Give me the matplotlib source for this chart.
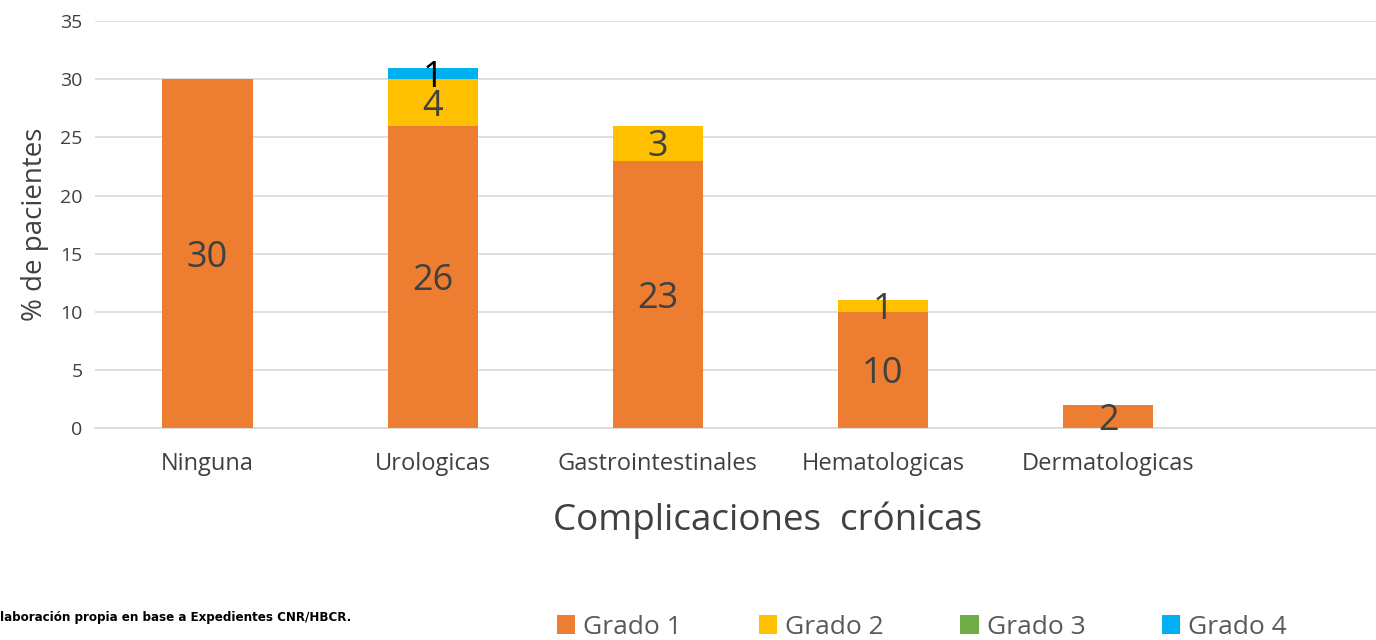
import numpy as np
import matplotlib
matplotlib.use("Agg")
import matplotlib.pyplot as plt
from matplotlib.patches import Patch

plt.rcParams['font.family'] = ['Open Sans', 'DejaVu Sans']

# Data
categories = ["Ninguna", "Urologicas", "Gastrointestinales", "Hematologicas", "Dermatologicas", ""]
grado1 = [30, 26, 23, 10, 2, 0]
grado2 = [0, 4, 3, 1, 0, 0]
grado3 = [0, 0, 0, 0, 0, 0]
grado4 = [0, 1, 0, 0, 0, 0]
series_names = ["Grado 1", "Grado 2", "Grado 3", "Grado 4"]
colors = ["#ED7D31", "#FFC000", "#70AD47", "#00B0F0"]
label_colors = ["#404040", "#404040", "#404040", "#000000"]

fig = plt.figure(figsize=(13.76, 6.4), dpi=100)
ax = fig.add_axes([0.069, 0.331, 0.931, 0.636])

x = np.arange(len(categories))
bottom = np.zeros(len(categories))
for vals, name, col, lcol in zip([grado1, grado2, grado3, grado4], series_names, colors, label_colors):
    vals = np.array(vals, dtype=float)
    bars = ax.bar(x, vals, 0.4, bottom=bottom, color=col, label=name, zorder=3)
    labels = [f"{int(v)}" if v > 0 else "" for v in vals]
    ax.bar_label(bars, labels=labels, label_type="center", fontsize=26, color=lcol,
                 padding=-3, zorder=4)
    bottom += vals

ax.set_ylim(0, 35)
ax.set_yticks(range(0, 36, 5))
ax.set_xlim(-0.5, 5.19)
ax.set_xticks(x[:5])
ax.set_xticklabels(categories[:5], fontsize=17, color="#404040")
ax.tick_params(axis="y", labelsize=14, labelcolor="#404040", length=0, pad=9)
ax.tick_params(axis="x", length=0, pad=17)
ax.grid(axis="y", color="#D9D9D9", linewidth=1.2, zorder=0)
for s in ["top", "right", "left"]:
    ax.spines[s].set_visible(False)
ax.spines["bottom"].set_color("#D9D9D9")
ax.spines["bottom"].set_linewidth(1.2)

ax.set_ylabel("% de pacientes", fontsize=20, color="#404040", labelpad=8)
fig.text(0.558, 0.187, "Complicaciones  crónicas", fontsize=26.5, color="#404040", ha="center", va="center")

fig.text(0.0, 0.035, "laboración propia en base a Expedientes CNR/HBCR.",
         fontsize=9.5, fontweight="bold", fontstretch="condensed", ha="left", va="center",
         family=['Liberation Sans Narrow', 'DejaVu Sans'])

handles = [Patch(facecolor=c, edgecolor="none") for c in colors]
fig.legend(handles, series_names, loc="center", bbox_to_anchor=(0.67, 0.02), ncol=4,
           frameon=False, fontsize=19, handlelength=0.7, handleheight=0.7,
           handletextpad=0.3, columnspacing=2.9, labelcolor="#595959")

fig.savefig("out.png", dpi=100)
